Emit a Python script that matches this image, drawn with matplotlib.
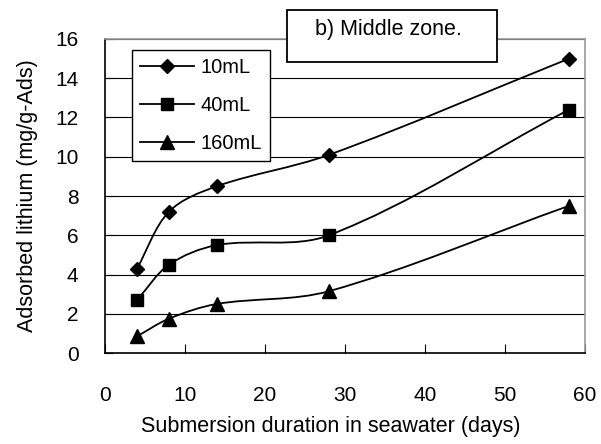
import matplotlib
matplotlib.use("Agg")
import matplotlib.pyplot as plt             # noqa: E402
from matplotlib.lines import Line2D          # noqa: E402
from matplotlib.patches import PathPatch, Rectangle   # noqa: E402
from matplotlib.path import Path             # noqa: E402
import numpy as np                          # noqa: E402

plt.rcParams["font.family"] = ["Liberation Sans", "DejaVu Sans"]

days = [4, 8, 14, 28, 58]
li_10ml = [4.3, 7.2, 8.5, 10.1, 15.0]
li_40ml = [2.7, 4.5, 5.5, 6.0, 12.4]
li_160ml = [0.85, 1.75, 2.5, 3.15, 7.5]
SERIES = [("10mL", li_10ml, "D", 7.5), ("40mL", li_40ml, "s", 9), ("160mL", li_160ml, "^", 10)]
XTICKS = [0, 10, 20, 30, 40, 50, 60]
YTICKS = [0, 2, 4, 6, 8, 10, 12, 14, 16]


def smooth_path(ax, xs, ys):
    """Excel-like smoothed line: cubic bezier through the points, tangents weighted by
    the segment lengths measured on screen."""
    p = np.column_stack([xs, ys]).astype(float)
    q = ax.transData.transform(p)
    n = len(p)
    verts, codes = [p[0]], [Path.MOVETO]
    for i in range(n - 1):
        a, b = max(i - 1, 0), min(i + 2, n - 1)
        d01 = np.hypot(*(q[i] - q[a]))
        d12 = np.hypot(*(q[i + 1] - q[i]))
        d23 = np.hypot(*(q[b] - q[i + 1]))
        c1 = p[i] + (p[i + 1] - p[a]) * d12 / (d01 + d12) / 3
        c2 = p[i + 1] - (p[b] - p[i]) * d12 / (d12 + d23) / 3
        verts += [c1, c2, p[i + 1]]
        codes += [Path.CURVE4] * 3
    return Path(verts, codes)


fig = plt.figure(figsize=(6.01, 4.44), dpi=100)
ax = fig.add_axes([105 / 601, 91 / 444, 480 / 601, 314 / 444])
ax.set_xlim(0, 60)
ax.set_ylim(0, 16)

for lab, ys, mk, ms in SERIES:
    ax.add_patch(PathPatch(smooth_path(ax, days, ys), fill=False, edgecolor="black", lw=1.3, zorder=3))
    ax.plot(days, ys, ls="none", marker=mk, ms=ms, color="black", zorder=4)

ax.set_xticks(XTICKS)
ax.set_yticks(YTICKS)
ax.tick_params(direction="in", labelsize=15, colors="black")
ax.tick_params(axis="x", length=6.5, width=0.8, pad=24)
ax.tick_params(axis="y", length=6, width=0.8, pad=19)
ax.grid(axis="y", color="black", lw=0.8)
ax.set_axisbelow(True)
for s in ("left", "bottom"):
    ax.spines[s].set_linewidth(1.2)
for s in ("top", "right"):
    ax.spines[s].set_color("#999999")
    ax.spines[s].set_linewidth(1.2)

ax.set_xlabel("Submersion duration in seawater (days)", fontsize=15.5)
ax.xaxis.set_label_coords(0.47, -0.20)
ax.set_ylabel("Adsorbed lithium (mg/g-Ads)", fontsize=15.5)
ax.yaxis.set_label_coords(-0.14, 0.5)

handles = [Line2D([], [], color="black", lw=1.3, marker=mk, ms=ms) for _, _, mk, ms in SERIES]
leg = ax.legend(handles, [s[0] for s in SERIES], loc="upper left",
                bbox_to_anchor=(132 / 601, 1 - 50 / 444), bbox_transform=fig.transFigure,
                fontsize=14.5, frameon=True, fancybox=False, framealpha=1, edgecolor="black",
                borderpad=0.4, handlelength=2.7, handletextpad=0.3, labelspacing=0.95,
                borderaxespad=0)
leg.get_frame().set_linewidth(1.0)
leg.set_zorder(6)

# title box overlapping the top of the plot
fig.patches.append(Rectangle((287 / 601, 1 - 62 / 444), 210 / 601, 52 / 444, transform=fig.transFigure,
                             facecolor="white", edgecolor="black", lw=1.3, zorder=10))
fig.text(388 / 601, 1 - 29 / 444, "b) Middle zone.", ha="center", va="center", fontsize=15.5, zorder=11)

fig.savefig("out.png", dpi=100)
